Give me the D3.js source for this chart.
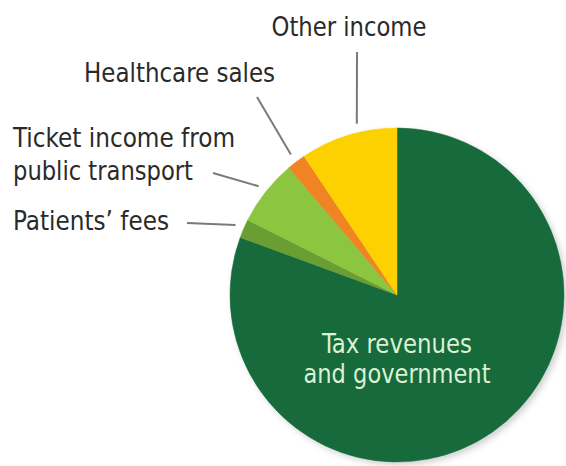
<!DOCTYPE html>
<html>
<head>
<meta charset="utf-8">
<script src="https://cdn.jsdelivr.net/npm/d3@7"></script>
<style>
  html, body { margin: 0; padding: 0; background: #fff; }
  svg { display: block; }
  text { font-family: "Liberation Sans Narrow", "DejaVu Sans Condensed", "Roboto", sans-serif; }
</style>
</head>
<body>
<div id="chart"></div>
<script>
// slices, clockwise from 12 o'clock
const categories = ["Tax revenues and government", "Patients' fees", "Ticket income from public transport", "Healthcare sales", "Other income"];
const shares = [80.6, 1.8, 6.4, 1.8, 9.4];
const colors = ["#176b3a", "#6b9d33", "#8cc63f", "#f08323", "#fdd100"];

// outside labels: lines of text + where the leader starts
const outsideLabels = [
  { idx: 1, lines: ["Patients\u2019 fees"], x: 13, y: 230, widths: [156], lead: [187, 223] },
  { idx: 2, lines: ["Ticket income from", "public transport"], x: 13, y: 147, widths: [222, 180], lead: [213, 173] },
  { idx: 3, lines: ["Healthcare sales"], x: 84, y: 82, widths: [191], lead: [257, 97] },
  { idx: 4, lines: ["Other income"], x: 349, y: 36, widths: [155], lead: [357, 52], anchor: "middle" }
];

const width = 566, height = 466;
const margin = {top: 0, right: 0, bottom: 0, left: 0};
const cx = 397, cy = 295, radius = 167;
const FONT = 27;

const svg = d3.select("#chart").append("svg")
  .attr("width", width)
  .attr("height", height);

const defs = svg.append("defs");
const shadow = defs.append("filter").attr("id", "shadow")
  .attr("x", "-10%").attr("y", "-10%").attr("width", "130%").attr("height", "130%");
shadow.append("feDropShadow")
  .attr("dx", 3).attr("dy", 3).attr("stdDeviation", 3)
  .attr("flood-color", "#000").attr("flood-opacity", 0.18);

const pie = d3.pie().sort(null).value(d => d);
const arcs = pie(shares);
const arc = d3.arc().innerRadius(0).outerRadius(radius);

const g = svg.append("g").attr("transform", `translate(${cx}, ${cy})`);

g.append("g").attr("filter", "url(#shadow)")
  .selectAll("path")
  .data(arcs)
  .join("path")
    .attr("d", arc)
    .attr("fill", (d, i) => colors[i])
    .attr("stroke", (d, i) => colors[i])
    .attr("stroke-width", 0.5);

// leader lines: from label to just outside the slice middle
const polar = (a, r) => [cx + r * Math.sin(a), cy - r * Math.cos(a)];
outsideLabels.forEach(l => {
  const a = arcs[l.idx];
  let mid = (a.startAngle + a.endAngle) / 2;
  if (l.idx === 4) mid = a.startAngle + (a.endAngle - a.startAngle) * 0.61;
  const end = polar(mid, radius + 9);
  svg.append("line")
    .attr("x1", l.lead[0]).attr("y1", l.lead[1])
    .attr("x2", end[0]).attr("y2", end[1])
    .attr("stroke", "#7a7a7a")
    .attr("stroke-width", 2);
});

outsideLabels.forEach(l => {
  const t = svg.append("text")
    .attr("font-size", FONT)
    .attr("fill", "#2a2a2a")
    .attr("text-anchor", l.anchor || "start");
  l.lines.forEach((s, i) => {
    t.append("tspan")
      .attr("x", l.x)
      .attr("y", l.y + i * 33)
      .attr("textLength", l.widths[i])
      .attr("lengthAdjust", "spacingAndGlyphs")
      .text(s);
  });
});

// inside label for the big slice
const taxLines = ["Tax revenues", "and government"];
const taxWidths = [150, 187];
const tax = svg.append("text")
  .attr("font-size", FONT)
  .attr("fill", "#dcf1d6")
  .attr("text-anchor", "middle");
taxLines.forEach((s, i) => {
  tax.append("tspan")
    .attr("x", cx)
    .attr("y", 353 + i * 30)
    .attr("textLength", taxWidths[i])
    .attr("lengthAdjust", "spacingAndGlyphs")
    .text(s);
});
</script>
</body>
</html>
